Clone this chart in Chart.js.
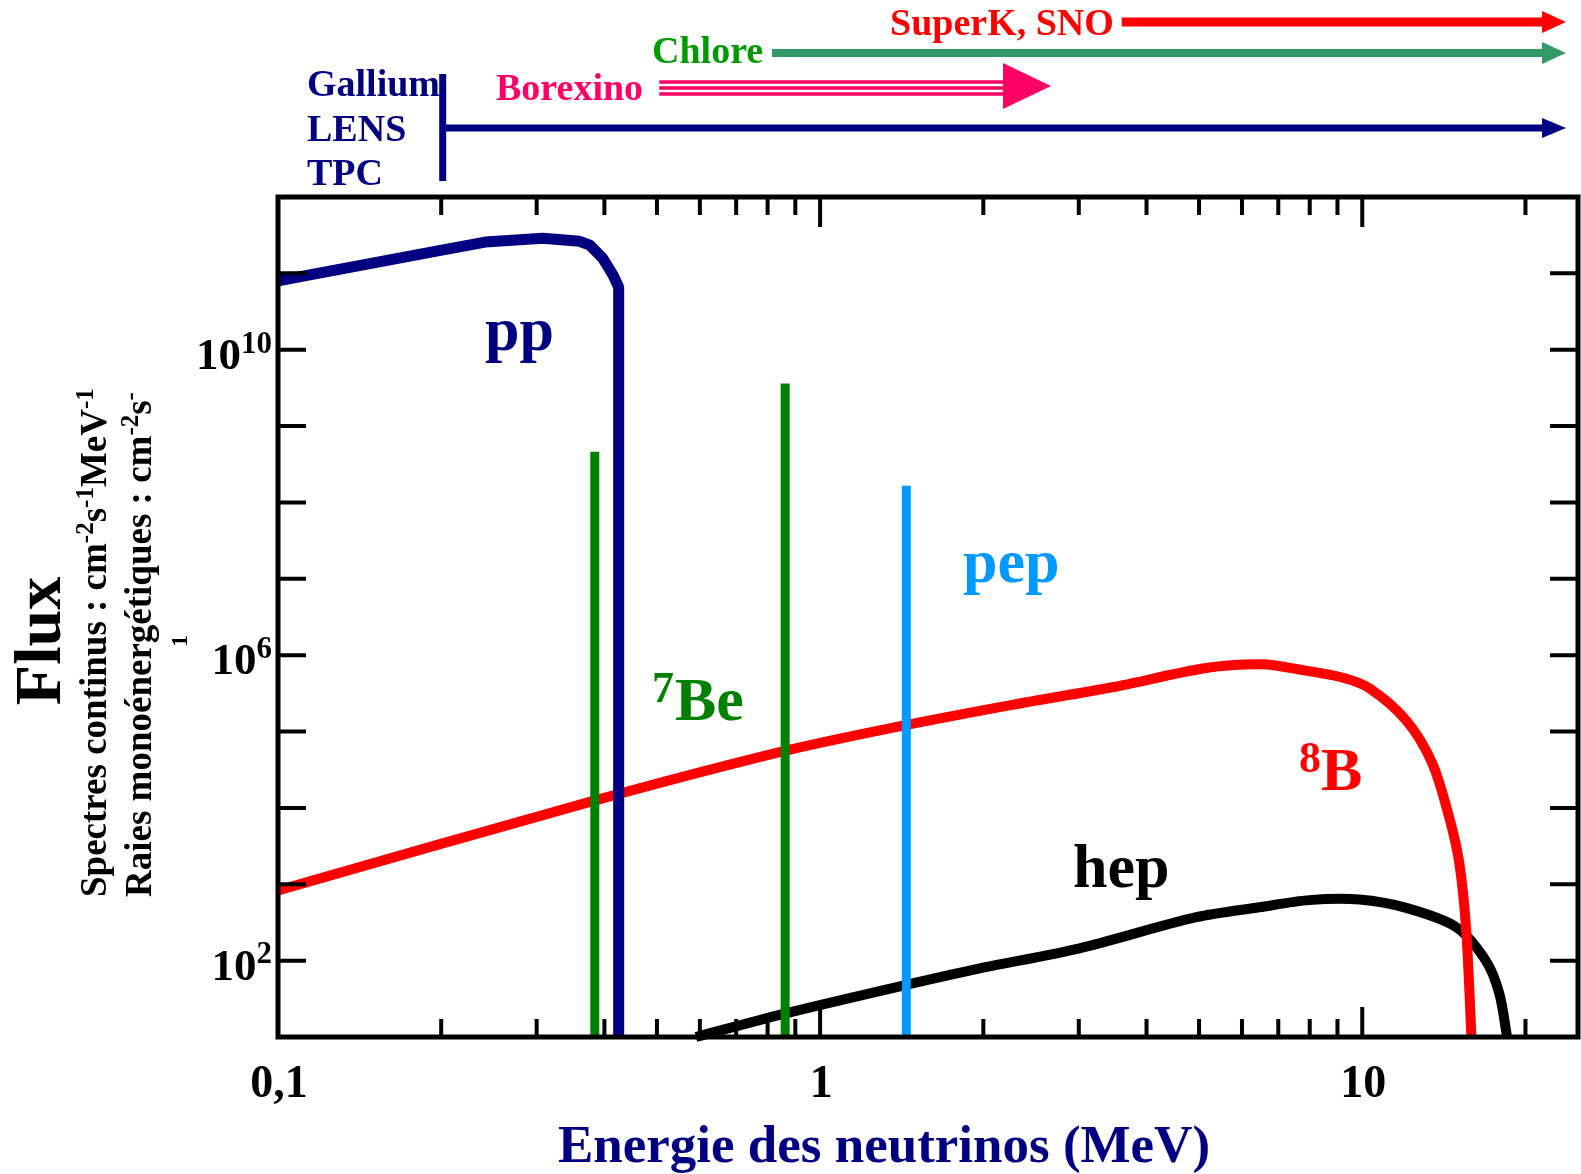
<!DOCTYPE html>
<html>
<head>
<meta charset="utf-8">
<script src="https://cdn.jsdelivr.net/npm/chart.js@4.4.1/dist/chart.umd.min.js"></script>
<style>
  html, body { margin: 0; padding: 0; background: #fff; }
  #wrap { width: 1581px; height: 1174px; }
</style>
</head>
<body>
<div id="wrap"><canvas id="fluxChart" width="1581" height="1174"></canvas></div>
<script>
// Solar neutrino spectra, log-log, with detector energy ranges on top

// pp continuum (MeV, cm-2 s-1 MeV-1)
const ppEnergy = [0.1, 0.196, 0.241, 0.308, 0.36, 0.376, 0.397, 0.415, 0.425, 0.425];
const ppFlux   = [8.0e10, 1.95e11, 2.57e11, 2.88e11, 2.63e11, 2.34e11, 1.58e11, 9.5e10, 6.6e10, 10];

// 8B continuum
const b8Energy = [0.1, 0.376, 0.853, 1.40, 2.26, 3.46, 5.15, 6.54, 7.65, 9.18, 10.3, 12.05, 13.45, 14.46, 15.1, 15.55, 15.9];
const b8Flux   = [8.3e2, 1.2e4, 5.5e4, 1.17e5, 2.24e5, 3.8e5, 6.8e5, 7.6e5, 6.5e5, 5.1e5, 3.7e5, 1.4e5, 3.9e4, 7.6e3, 1.9e3, 2.5e2, 10];

// hep continuum
const hepEnergy = [0.59, 0.879, 1.44, 1.97, 3.01, 4.94, 6.46, 7.98, 9.88, 12.05, 14.9, 16.9, 17.9, 18.5];
const hepFlux   = [10, 21, 48, 79, 145, 370, 500, 620, 630, 490, 275, 100, 37, 10];

// monoenergetic lines (cm-2 s-1)
const be7Energy = [0.384, 0.862];
const be7Flux   = [4.6e8, 3.6e9];
const pepEnergy = [1.442];
const pepFlux   = [1.66e8];

// axes
const X_MIN = 0.1, X_MAX = 25;
const Y_MIN = 10, Y_MAX = 1e12;
const xMinorTicks = [0.2, 0.3, 0.4, 0.5, 0.6, 0.7, 0.8, 0.9, 2, 3, 4, 5, 6, 7, 8, 9, 20];
const xMajorTicks = [1, 10];
const yTicks = [1e2, 1e3, 1e4, 1e5, 1e6, 1e7, 1e8, 1e9, 1e10, 1e11];
const xLabelValues = [0.1, 1, 10];
const xLabelTexts = ['0,1', '1', '10'];
const yLabelExponents = [2, 6, 10];

const SERIF = '"Liberation Serif", "Times New Roman", serif';
const font = (px) => `bold ${px}px ${SERIF}`;

function toPoints(xs, ys) {
  return xs.map((x, i) => ({ x: x, y: ys[i] }));
}

// each line goes from the bottom of the axis up to its flux
function lineDatasets(label, xs, ys, color, order) {
  return xs.map((e, i) => ({
    label: label,
    data: [{ x: e, y: Y_MIN }, { x: e, y: ys[i] }],
    borderColor: color,
    borderWidth: 9,
    borderCapStyle: 'butt',
    pointRadius: 0,
    tension: 0,
    order: order
  }));
}

function curveDataset(label, xs, ys, color, width, order, clip, tension) {
  return {
    label: label,
    data: toPoints(xs, ys),
    borderColor: color,
    borderWidth: width,
    borderJoinStyle: 'round',
    pointRadius: 0,
    tension: tension,
    order: order,
    clip: clip
  };
}

const datasets = [
  ...lineDatasets('pep', pepEnergy, pepFlux, '#0099ff', 0),
  ...lineDatasets('7Be', be7Energy, be7Flux, '#008000', 1),
  curveDataset('pp', ppEnergy, ppFlux, '#000080', 11, 2, 0, 0),
  curveDataset('8B', b8Energy, b8Flux, '#ff0000', 10, 3, 0, 0.3),
  curveDataset('hep', hepEnergy, hepFlux, '#000000', 10, 4, false, 0.3)
];

// text with superscripts: parts = [[text, isSup], ...]
function richWidth(ctx, parts, size) {
  let w = 0;
  parts.forEach(([t, sup]) => {
    ctx.font = font(sup ? Math.round(size * 0.68) : size);
    w += ctx.measureText(t).width;
  });
  return w;
}

function drawRich(ctx, parts, x, y, size) {
  let cx = x;
  ctx.textAlign = 'left';
  ctx.textBaseline = 'alphabetic';
  parts.forEach(([t, sup]) => {
    ctx.font = font(sup ? Math.round(size * 0.68) : size);
    ctx.fillText(t, cx, sup ? y - size * 0.36 : y);
    cx += ctx.measureText(t).width;
  });
}

function arrow(ctx, x0, x1, y, width, headLen, headHalf, color) {
  ctx.strokeStyle = color;
  ctx.fillStyle = color;
  ctx.lineWidth = width;
  ctx.lineCap = 'butt';
  ctx.beginPath();
  ctx.moveTo(x0, y);
  ctx.lineTo(x1 - headLen + 1, y);
  ctx.stroke();
  ctx.beginPath();
  ctx.moveTo(x1 - headLen, y - headHalf);
  ctx.lineTo(x1, y);
  ctx.lineTo(x1 - headLen, y + headHalf);
  ctx.closePath();
  ctx.fill();
}

const decorations = {
  id: 'decorations',
  afterDatasetsDraw(chart) {
    const { ctx, chartArea: a, scales } = chart;
    const X = (v) => scales.x.getPixelForValue(v);
    const Y = (v) => scales.y.getPixelForValue(v);
    ctx.save();

    // frame
    ctx.strokeStyle = '#000';
    ctx.lineWidth = 5;
    ctx.strokeRect(a.left, a.top, a.right - a.left, a.bottom - a.top);

    // inward ticks on all four sides
    ctx.lineWidth = 4;
    ctx.beginPath();
    const xTick = (v, len) => {
      const px = X(v);
      ctx.moveTo(px, a.bottom); ctx.lineTo(px, a.bottom - len);
      ctx.moveTo(px, a.top); ctx.lineTo(px, a.top + len);
    };
    xMinorTicks.forEach(v => xTick(v, 18));
    xMajorTicks.forEach(v => xTick(v, 30));
    yTicks.forEach(v => {
      const py = Y(v);
      ctx.moveTo(a.left, py); ctx.lineTo(a.left + 28, py);
      ctx.moveTo(a.right, py); ctx.lineTo(a.right - 28, py);
    });
    ctx.stroke();

    // tick labels
    ctx.fillStyle = '#000';
    ctx.font = font(46);
    ctx.textAlign = 'center';
    ctx.textBaseline = 'alphabetic';
    xLabelValues.forEach((v, i) => ctx.fillText(xLabelTexts[i], X(v) + 1, a.bottom + 60));
    yLabelExponents.forEach(e => {
      const parts = [['10', false], [String(e), true]];
      const w = richWidth(ctx, parts, 45);
      drawRich(ctx, parts, 272 - w, Y(Math.pow(10, e)) + 19, 45);
    });

    // axis titles
    ctx.fillStyle = '#000080';
    ctx.font = font(53);
    ctx.textAlign = 'center';
    ctx.fillText('Energie des neutrinos (MeV)', 884, 1162);

    ctx.fillStyle = '#000';
    ctx.save();
    ctx.translate(60, 641);
    ctx.rotate(-Math.PI / 2);
    ctx.font = font(66);
    ctx.textAlign = 'center';
    ctx.fillText('Flux', 0, 0);
    ctx.restore();

    ctx.save();
    ctx.translate(106, 897);
    ctx.rotate(-Math.PI / 2);
    drawRich(ctx, [['Spectres continus : cm', false], ['-2', true], ['s', false], ['-1', true], ['MeV', false], ['-1', true]], 0, 0, 37);
    ctx.restore();

    ctx.save();
    ctx.translate(151, 897);
    ctx.rotate(-Math.PI / 2);
    drawRich(ctx, [['Raies monoénergétiques : cm', false], ['-2', true], ['s', false], ['-', true]], 0, 0, 37);
    ctx.restore();

    ctx.save();
    ctx.translate(187, 641);
    ctx.rotate(-Math.PI / 2);
    ctx.font = font(24);
    ctx.textAlign = 'center';
    ctx.fillText('1', 0, 0);
    ctx.restore();

    // series names
    ctx.textAlign = 'left';
    ctx.font = font(62);
    ctx.fillStyle = '#000080';
    ctx.fillText('pp', 485, 350);
    ctx.fillStyle = '#0099ff';
    ctx.fillText('pep', 963, 582);
    ctx.fillStyle = '#000000';
    ctx.fillText('hep', 1073, 887);
    ctx.fillStyle = '#008000';
    ctx.font = font(44);
    ctx.fillText('7', 652, 702);
    ctx.font = font(62);
    ctx.fillText('Be', 675, 720);
    ctx.fillStyle = '#ff0000';
    ctx.font = font(44);
    ctx.fillText('8', 1299, 772);
    ctx.font = font(62);
    ctx.fillText('B', 1321, 790);

    // detector ranges
    const tip = a.right - 12;
    ctx.fillStyle = '#000080';
    ctx.fillRect(X(0.2) - 2, 74, 7, 107);
    arrow(ctx, X(0.2) + 4, tip, 128, 7, 24, 10, '#000080');
    arrow(ctx, X(0.815), tip, 53, 8, 24, 11, '#339966');
    arrow(ctx, X(3.6), tip, 22, 9, 24, 11, '#ff0000');

    // Borexino: triple line with a large head
    ctx.strokeStyle = '#ff0066';
    ctx.lineWidth = 3.5;
    ctx.beginPath();
    [82, 88, 94].forEach(y => { ctx.moveTo(X(0.505), y); ctx.lineTo(1004, y); });
    ctx.stroke();
    ctx.fillStyle = '#ff0066';
    ctx.beginPath();
    ctx.moveTo(1003, 63); ctx.lineTo(1051, 86); ctx.lineTo(1003, 109);
    ctx.closePath();
    ctx.fill();

    ctx.font = font(38);
    ctx.textAlign = 'left';
    ctx.fillStyle = '#000080';
    ctx.fillText('Gallium', 307, 96);
    ctx.fillText('LENS', 307, 141);
    ctx.fillText('TPC', 307, 185);
    ctx.fillStyle = '#ff0066';
    ctx.fillText('Borexino', 496, 100);
    ctx.fillStyle = '#009900';
    ctx.fillText('Chlore', 652, 63);
    ctx.fillStyle = '#ff0000';
    ctx.fillText('SuperK, SNO', 890, 35);

    ctx.restore();
  }
};

new Chart(document.getElementById('fluxChart'), {
  type: 'line',
  data: { datasets: datasets },
  options: {
    responsive: false,
    animation: false,
    layout: { padding: { left: 278, top: 197, right: 3, bottom: 137 } },
    scales: {
      x: { type: 'logarithmic', min: X_MIN, max: X_MAX, display: false },
      y: { type: 'logarithmic', min: Y_MIN, max: Y_MAX, display: false }
    },
    plugins: {
      legend: { display: false },
      tooltip: { enabled: false }
    }
  },
  plugins: [decorations]
});
</script>
</body>
</html>
